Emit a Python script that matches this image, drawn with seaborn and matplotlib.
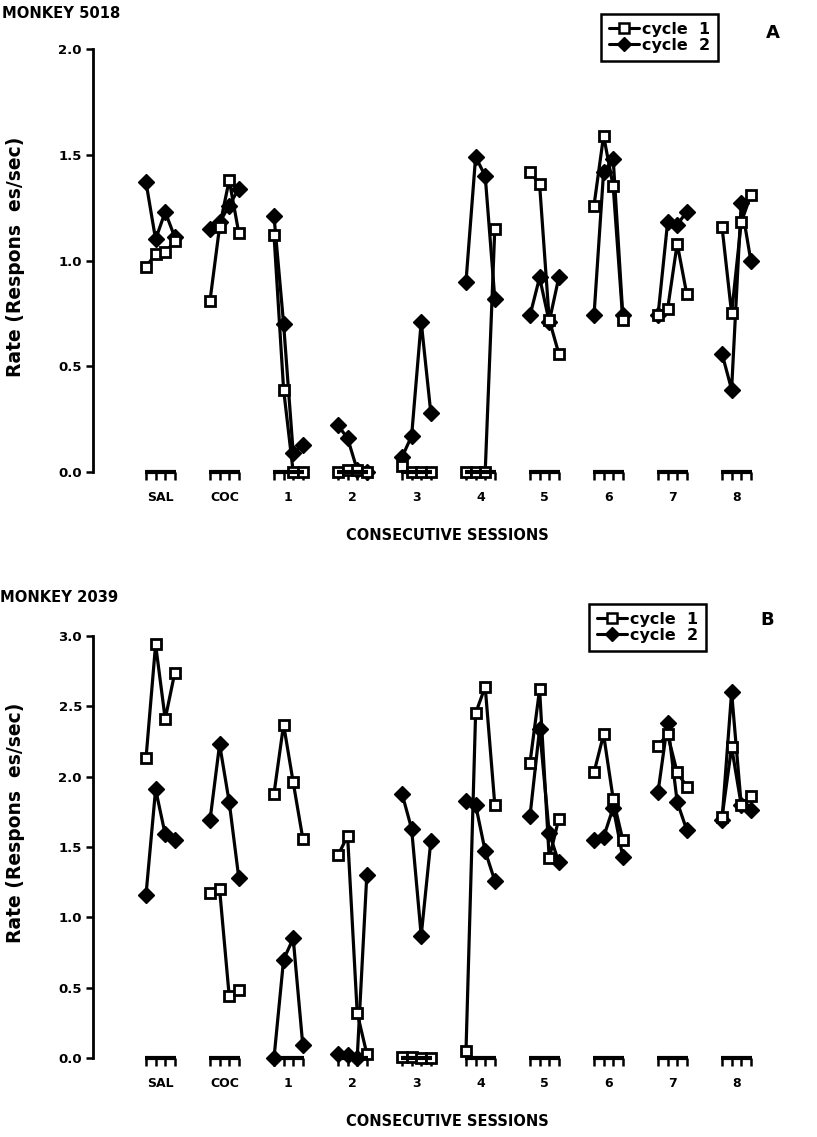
import numpy as np
import pandas as pd
import matplotlib
matplotlib.use("Agg")
import matplotlib.pyplot as plt
import seaborn as sns
from matplotlib.lines import Line2D

# ---- data -------------------------------------------------------------
sessions = ["SAL", "COC", "1", "2", "3", "4", "5", "6", "7", "8"]

# Monkey 5018: response rate (responses/sec), four samples per session
m5018_cycle1 = [
    [0.97, 1.03, 1.04, 1.09],
    [0.81, 1.16, 1.38, 1.13],
    [1.12, 0.39, 0.00, 0.00],
    [0.00, 0.01, 0.01, 0.00],
    [0.03, 0.00, 0.00, 0.00],
    [0.00, 0.00, 0.00, 1.15],
    [1.42, 1.36, 0.72, 0.56],
    [1.26, 1.59, 1.35, 0.72],
    [0.74, 0.77, 1.08, 0.84],
    [1.16, 0.75, 1.18, 1.31],
]
m5018_cycle2 = [
    [1.37, 1.10, 1.23, 1.11],
    [1.15, 1.18, 1.26, 1.34],
    [1.21, 0.70, 0.09, 0.13],
    [0.22, 0.16, 0.01, 0.00],
    [0.07, 0.17, 0.71, 0.28],
    [0.90, 1.49, 1.40, 0.82],
    [0.74, 0.92, 0.71, 0.92],
    [0.74, 1.42, 1.48, 0.74],
    [0.74, 1.18, 1.17, 1.23],
    [0.56, 0.39, 1.27, 1.00],
]

# Monkey 2039
m2039_cycle1 = [
    [2.13, 2.94, 2.41, 2.74],
    [1.17, 1.20, 0.44, 0.48],
    [1.88, 2.37, 1.96, 1.56],
    [1.44, 1.58, 0.32, 0.03],
    [0.01, 0.01, 0.00, 0.00],
    [0.05, 2.45, 2.64, 1.80],
    [2.10, 2.62, 1.42, 1.70],
    [2.03, 2.30, 1.84, 1.55],
    [2.22, 2.30, 2.03, 1.93],
    [1.71, 2.21, 1.80, 1.86],
]
m2039_cycle2 = [
    [1.16, 1.91, 1.59, 1.55],
    [1.69, 2.23, 1.82, 1.28],
    [0.00, 0.70, 0.85, 0.09],
    [0.03, 0.02, 0.00, 1.30],
    [1.88, 1.63, 0.87, 1.54],
    [1.83, 1.80, 1.47, 1.26],
    [1.72, 2.34, 1.60, 1.39],
    [1.55, 1.57, 1.78, 1.43],
    [1.89, 2.38, 1.82, 1.62],
    [1.69, 2.60, 1.80, 1.76],
]

y_ticks_5018 = [0.0, 0.5, 1.0, 1.5, 2.0]
y_ticks_2039 = [0.0, 0.5, 1.0, 1.5, 2.0, 2.5, 3.0]

# ---- layout ------------------------------------------------------------
STEP = 0.15          # spacing of the four samples inside a session block
N_STEPS = 4
FONT = "DejaVu Sans"


def long_form(values, cycle):
    rows = []
    for i, sess in enumerate(sessions):
        for k, v in enumerate(values[i]):
            rows.append({"session": sess, "x": i + k * STEP, "rate": v, "cycle": cycle})
    return pd.DataFrame(rows)


sns.set_style("ticks")
plt.rcParams["font.family"] = [FONT]
plt.rcParams["font.weight"] = "bold"
for key in ("text.color", "axes.labelcolor", "xtick.color", "ytick.color",
            "axes.edgecolor"):
    plt.rcParams[key] = "black"

fig = plt.figure(figsize=(8.17, 11.37), dpi=100)
W, H = 817.0, 1137.0


def make_axes(top_px, bottom_px):
    left, right = 93.0, 790.0
    return fig.add_axes([left / W, 1 - bottom_px / H, (right - left) / W,
                         (bottom_px - top_px) / H])


def draw_panel(ax, c1, c2, ymax, yticks):
    line_kw = dict(units="session", estimator=None, sort=False, legend=False,
                   ax=ax, color="black", linewidth=2.3, clip_on=False)
    sns.lineplot(data=long_form(c2, "cycle 2"), x="x", y="rate", marker="D",
                 markersize=8, markerfacecolor="black", markeredgecolor="black",
                 markeredgewidth=1.0, **line_kw)
    sns.lineplot(data=long_form(c1, "cycle 1"), x="x", y="rate", marker="s",
                 markersize=7.5, markerfacecolor="white", markeredgecolor="black",
                 markeredgewidth=2.0, **line_kw)

    ax.set_xlim((93 - 146) / 64.0, (790 - 146) / 64.0)
    ax.set_ylim(0, ymax)
    sns.despine(ax=ax, bottom=True)
    ax.spines["left"].set_linewidth(2.0)
    ax.spines["left"].set_bounds(0, ymax)

    ax.set_yticks(yticks)
    ax.set_yticklabels([f"{t:.1f}" for t in yticks], fontsize=9.5, fontweight="bold")
    ax.tick_params(axis="y", direction="out", length=5, width=1.8, pad=3)

    centers = np.arange(len(sessions)) + STEP * (N_STEPS - 1) / 2
    ax.set_xticks(centers)
    ax.set_xticklabels(sessions, fontsize=9, fontweight="bold")
    ax.tick_params(axis="x", which="major", length=0, pad=14)
    minor = [i + k * STEP for i in range(len(sessions)) for k in range(N_STEPS)]
    ax.set_xticks(minor, minor=True)
    ax.tick_params(axis="x", which="minor", direction="out", length=6, width=1.8)

    # small bracket joining the four sample ticks of each session
    trans = ax.get_xaxis_transform()
    for i in range(len(sessions)):
        ax.plot([i - 0.012, i + STEP * (N_STEPS - 1) + 0.012], [0, 0],
                transform=trans, color="black", lw=3, clip_on=False,
                solid_capstyle="butt")
    ax.set_xlabel("")
    ax.set_ylabel("")


axA = make_axes(49, 472)
draw_panel(axA, m5018_cycle1, m5018_cycle2, 2.0, y_ticks_5018)
axB = make_axes(636, 1058)
draw_panel(axB, m2039_cycle1, m2039_cycle2, 3.0, y_ticks_2039)

# ---- titles and labels ----------------------------------------------------
fig.text(2 / W, 1 - 14 / H, "MONKEY 5018", fontsize=10.6, fontweight="bold",
         ha="left", va="center")
fig.text(0 / W, 1 - 597 / H, "MONKEY 2039", fontsize=10.6, fontweight="bold",
         ha="left", va="center")

ylab = "Rate (Respons  es/sec)"
fig.text(16 / W, 1 - 257 / H, ylab, rotation=90, fontsize=13.5,
         fontweight="bold", ha="center", va="center")
fig.text(16 / W, 1 - 823 / H, ylab, rotation=90, fontsize=13.5,
         fontweight="bold", ha="center", va="center")

fig.text(447 / W, 1 - 535 / H, "CONSECUTIVE SESSIONS", fontsize=10.5,
         fontweight="bold", ha="center", va="center")
fig.text(447 / W, 1 - 1122 / H, "CONSECUTIVE SESSIONS", fontsize=10.5,
         fontweight="bold", ha="center", va="center")

fig.text(773 / W, 1 - 33 / H, "A", fontsize=13, fontweight="bold",
         ha="center", va="center")
fig.text(767 / W, 1 - 620 / H, "B", fontsize=13, fontweight="bold",
         ha="center", va="center")

handles = [
    Line2D([], [], color="black", lw=2.2, marker="s", markersize=7,
           markerfacecolor="white", markeredgecolor="black", markeredgewidth=1.8),
    Line2D([], [], color="black", lw=2.2, marker="D", markersize=7,
           markerfacecolor="black", markeredgecolor="black"),
]
labels = ["cycle  1", "cycle  2"]


def add_legend(x_px, y_px):
    leg = fig.legend(handles, labels, loc="upper left",
                     bbox_to_anchor=(x_px / W, 1 - y_px / H),
                     frameon=True, fancybox=False, shadow=False,
                     handlelength=1.9, handletextpad=0.15, labelspacing=0.05,
                     borderpad=0.5, borderaxespad=0,
                     prop={"weight": "bold", "size": 11.5, "family": FONT})
    leg.get_frame().set_edgecolor("black")
    leg.get_frame().set_linewidth(1.8)
    leg.get_frame().set_alpha(None)
    return leg


add_legend(601, 14)
add_legend(589, 604)

fig.savefig("out.png", dpi=100, facecolor="white")
